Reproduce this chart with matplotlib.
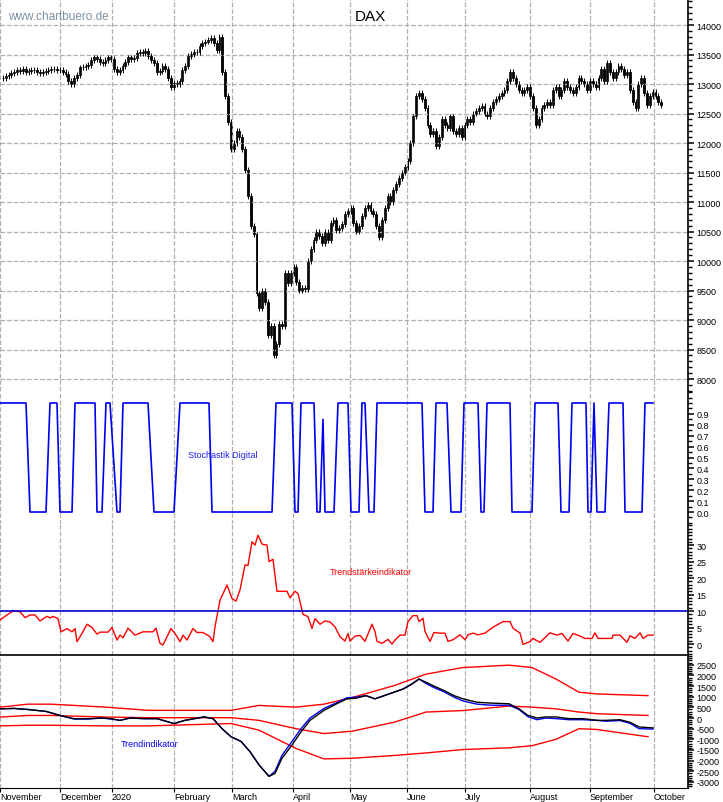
import numpy as np
import matplotlib.pyplot as plt
from matplotlib.ticker import MultipleLocator

plt.rcParams['font.family'] = ['Liberation Sans', 'DejaVu Sans']
plt.rcParams['axes.unicode_minus'] = False

# daily closes, Nov 2019 - Oct 2020
closes = [
    # Nov
    13100, 13130, 13150, 13180, 13200, 13230, 13220, 13250, 13200, 13220, 13240,
    13230, 13210, 13180, 13200, 13220, 13240, 13250, 13260, 13230, 13240,
    # Dec
    13200, 13170, 13050, 13000, 13100, 13150, 13280, 13290, 13300, 13320, 13400,
    13450, 13420, 13380, 13350, 13400, 13450, 13420,
    # Jan
    13250, 13200, 13230, 13300, 13380, 13450, 13430, 13440, 13520, 13550, 13520,
    13560, 13480, 13400, 13350, 13200, 13220, 13300, 13250, 13100, 12950, 13020,
    # Feb
    13000, 13050, 13230, 13300, 13480, 13510, 13550, 13540, 13650, 13700, 13720,
    13750, 13780, 13700, 13580, 13790, 13200, 12800, 12350, 11900,
    # Mar
    12000, 12200, 12100, 11900, 11550, 11100, 10600, 10450, 9450, 9200, 9500,
    9300, 8740, 8900, 8400, 8600, 8930, 8900, 9800, 9630, 9800, 9900,
    # Apr
    9650, 9500, 9550, 9530, 10000, 10200, 10350, 10500, 10420, 10300, 10500,
    10350, 10650, 10700, 10530, 10560, 10630, 10800, 10850, 10900,
    # May
    10650, 10500, 10600, 10770, 10900, 10950, 10850, 10800, 10600, 10400, 10700,
    10900, 11100, 11000, 11200, 11300, 11400, 11500, 11600, 11700,
    # Jun
    12000, 12450, 12800, 12850, 12750, 12600, 12300, 12150, 12200, 11950, 12100,
    12400, 12300, 12250, 12450, 12200, 12150, 12250, 12100, 12300, 12400, 12350,
    # Jul
    12500, 12550, 12600, 12630, 12500, 12450, 12600, 12700, 12750, 12800, 12850,
    12900, 13050, 13200, 13100, 13000, 12900, 12850, 12900, 12950, 12800, 12600, 12300,
    # Aug
    12400, 12600, 12650, 12700, 12650, 12900, 12950, 12800, 12900, 13050, 12950,
    12900, 12850, 12950, 13100, 13050, 13000, 12900, 13050, 13000, 12950,
    # Sep
    13100, 13250, 13050, 13350, 13200, 13100, 13200, 13300, 13250, 13150, 13200,
    12900, 12700, 12600, 13000, 13100, 12850, 12650, 12800, 12870,
    # Oct
    12800, 12700, 12650,
]

# indicator turning points as (x in picture pixels, value)
stoch_pts = [(0, 1), (26, 1), (30, 0), (46, 0), (50, 1), (57, 1), (60, 0), (72, 0), (75, 1),
             (95, 1), (97, 0), (102, 0), (106, 1), (110, 1), (117, 0), (120, 0), (123, 1),
             (148, 1), (154, 0), (174, 0), (180, 1), (209, 1), (212, 0), (272, 0), (276, 1),
             (292, 1), (295, 0), (298, 0), (301, 1), (314, 1), (317, 0), (320, 0), (323, 0.85),
             (325, 0), (334, 0), (338, 1), (348, 1), (351, 0), (359, 0), (362, 1), (365, 1),
             (369, 0), (374, 0), (377, 1), (422, 1), (425, 0), (433, 0), (436, 1), (447, 1),
             (451, 0), (461, 0), (464, 1), (478, 1), (481, 0), (484, 0), (487, 1), (510, 1),
             (512, 0), (532, 0), (535, 1), (558, 1), (561, 0), (569, 0), (572, 1), (586, 1),
             (588, 0), (591, 0), (594, 1), (597, 0), (605, 0), (609, 1), (623, 1), (625, 0),
             (642, 0), (645, 1), (653, 1)]

ts_pts = [(0, 7.3), (7, 8.8), (13, 10), (20, 9.8), (25, 8), (30, 8.8), (35, 8.8), (40, 7),
          (47, 8.4), (50, 7.9), (53, 8.4), (58, 7.7), (61, 3.7), (67, 4.7), (72, 3.7), (75, 4.7),
          (77, 0.7), (82, 3.2), (87, 6), (92, 5), (97, 3), (100, 3.6), (108, 3.6), (112, 5),
          (117, 1.2), (120, 2.7), (123, 1.9), (128, 4.8), (135, 2.7), (143, 3.7), (153, 3.7),
          (156, 4.8), (160, 0.2), (163, -0.3), (167, 2.2), (171, 4.7), (175, 3.2), (180, 0.7),
          (183, 2.7), (187, 1.2), (193, 4.7), (197, 3.5), (203, 3.5), (210, 2.2), (213, 0.7),
          (215, 5.2), (220, 13.3), (227, 17.9), (232, 13.8), (236, 13), (240, 16.4), (245, 24),
          (248, 23.8), (252, 31), (255, 30), (258, 33), (262, 30.3), (267, 30), (269, 25),
          (273, 25.7), (277, 16), (287, 16), (290, 14), (295, 16), (298, 15.3), (303, 9),
          (308, 8.3), (312, 4.7), (315, 7.7), (320, 6), (325, 7), (330, 6.7), (335, 5.2),
          (340, 2.2), (345, 0.9), (348, 3.2), (350, 0.9), (355, 2.4), (360, 2.6), (365, 0.8),
          (372, 6), (375, 3.8), (377, 0.8), (382, 0.2), (388, 1.4), (392, 0), (395, 1.2),
          (400, 2.7), (405, 2.7), (408, 6.8), (413, 8.6), (417, 8.6), (419, 6.8), (423, 7.8),
          (425, 3.8), (430, 0.8), (434, 3.5), (440, 3.3), (445, 3.3), (448, 0.8), (453, 1.3),
          (460, 2.8), (465, 1.3), (468, 2.8), (473, 3.3), (478, 2.8), (485, 3.3), (493, 5.1),
          (503, 6.8), (510, 6.8), (513, 4.8), (520, 3.3), (523, -0.1), (530, 0.7), (533, 1.7),
          (540, 0.5), (550, 3.4), (557, 2.7), (562, 3.2), (568, 0.9), (573, 3.2), (580, 2.4),
          (585, 1.7), (592, 1.7), (595, 3.4), (598, 1.7), (612, 1.7), (613, 2.7), (620, 2.7),
          (627, 0.5), (630, 2.5), (635, 1.7), (640, 3.4), (643, 1.7), (648, 2.7), (653, 2.7)]

# (x px, trend, blue signal)
trend_pts = [(0, 430, 430), (14, 450, 450), (28, 400, 400), (46, 310, 310), (60, 120, 120),
             (74, -30, -50), (88, -30, -50), (102, 0, 0), (111, -30, -50), (120, -110, -110),
             (130, 0, 0), (144, -30, -30), (157, -30, -30), (174, -260, -260), (185, -110, -110),
             (204, 50, 50), (213, -30, -30), (222, -500, -500), (231, -880, -880),
             (241, -1100, -1100), (250, -1580, -1580), (259, -2200, -2200), (269, -2740, -2740),
             (275, -2600, -2500), (282, -1890, -1750), (292, -1270, -1100), (301, -650, -500),
             (310, -110, 0), (324, 360, 450), (338, 700, 750), (347, 900, 950), (356, 930, 980),
             (366, 1050, 1050), (375, 900, 900), (389, 1130, 1130), (403, 1360, 1360),
             (412, 1600, 1600), (419, 1830, 1830), (426, 1680, 1620), (433, 1520, 1450),
             (444, 1290, 1230), (454, 1050, 980), (463, 900, 800), (477, 740, 650),
             (491, 700, 600), (509, 670, 600), (519, 430, 400), (528, 120, 60), (537, 0, -80),
             (546, 50, 0), (556, 50, -30), (569, -30, -80), (583, -30, -80), (597, -110, -110),
             (606, -110, -150), (620, -80, -120), (630, -200, -250), (639, -420, -500),
             (653, -465, -520)]

# (x px, upper, middle, lower)
band_pts = [(0, 510, 45, -370), (28, 650, 120, -340), (51, 650, 120, -340), (106, 510, 45, -370),
            (148, 360, 15, -370), (231, 360, 15, -260), (259, 590, -110, -570),
            (296, 510, -500, -1430), (324, 650, -730, -1920), (352, 960, -620, -1890),
            (394, 1520, -200, -1760), (426, 2060, 280, -1640), (463, 2370, 350, -1480),
            (509, 2480, 560, -1400), (532, 2370, 510, -1300), (556, 1830, 430, -1000),
            (579, 1210, 280, -500), (597, 1130, 200, -540), (648, 1050, 120, -880)]

month_days = [-1, 20, 38.3, 60, 80.4, 101.8, 121.8, 141.8, 162, 185, 206, 228.5]
month_names = ['November', 'December', '2020', 'February', 'March', 'April', 'May', 'June',
               'July', 'August', 'September', 'October']

PX = 2.85  # picture pixels per trading day


def px2day(p):
    return np.array(p, dtype=float) / PX - 1


fig = plt.figure(figsize=(7.23, 8.03), dpi=100)
H = 803.0
L, R = 0.0, 688 / 723


def panel(top, bot):
    return fig.add_axes([L, 1 - bot / H, R, (bot - top) / H])


ax1 = panel(0, 392)
ax2 = panel(392, 525)
ax3 = panel(525, 656)
ax4 = panel(656, 789)
xlim = (-1, -1 + 688 / PX)

for ax in (ax1, ax2, ax3, ax4):
    ax.set_xlim(*xlim)
    for s in ('left', 'top', 'bottom'):
        ax.spines[s].set_visible(False)
    ax.spines['right'].set_linewidth(1.2)
    ax.yaxis.tick_right()
    ax.tick_params(axis='y', labelsize=6.5, length=4, width=1.1, pad=2, direction='out')
    ax.tick_params(axis='y', which='minor', length=3, width=1)
    ax.tick_params(axis='x', length=0, labelbottom=False)
    ax.set_xticks(month_days)
    ax.grid(axis='x', color='#b0b0b0', linestyle='--', linewidth=0.9)

# candles
closes = np.array(closes, dtype=float)
opens = np.concatenate([[closes[0]], closes[:-1]])
days = np.arange(len(closes))
for d, o, c in zip(days, opens, closes):
    lo, hi = min(o, c), max(o, c)
    ax1.vlines(d, lo - 50, hi + 50, color='black', linewidth=0.7)
    ax1.bar(d, max(hi - lo, 10), bottom=lo, width=0.65,
            color='black' if c < o else 'white', edgecolor='black', linewidth=0.6)
ax1.set_ylim(7797, 14441)
ax1.set_yticks(np.arange(8000, 14001, 500))
ax1.yaxis.set_minor_locator(MultipleLocator(100))
ax1.grid(axis='y', color='#b0b0b0', linestyle='--', linewidth=0.9)
ax1.text(px2day(8), 14150, 'www.chartbuero.de', color='#8090a0', fontsize=8.5, va='center')
ax1.text(0.515, 0.975, 'DAX', transform=ax1.transAxes, fontsize=11, va='top', ha='left')

# stochastik digital
sx, sv = zip(*stoch_pts)
ax2.plot(px2day(sx), sv, color='#0000ee', linewidth=1.2)
ax2.set_ylim(-0.11, 1.11)
ticks = np.arange(0, 0.91, 0.1)
ax2.set_yticks(ticks)
ax2.set_yticklabels([f'{v:.1f}' for v in ticks])
ax2.yaxis.set_minor_locator(MultipleLocator(0.05))
ax2.text(px2day(188), 0.53, 'Stochastik Digital', color='#2020ee', fontsize=6.5, va='center')

# trendstaerke
tx, tv = zip(*ts_pts)
ax3.plot(px2day(tx), tv, color='red', linewidth=1.0)
ax3.axhline(10, color='#0000cc', linewidth=1.2)
ax3.set_ylim(-3.33, 36.4)
ax3.set_yticks(np.arange(0, 31, 5))
ax3.yaxis.set_minor_locator(MultipleLocator(1))
ax3.text(px2day(330), 22, 'Trendstärkeindikator', color='red', fontsize=6.5, va='center')

# trendindikator
bx, bu, bm, bl = zip(*band_pts)
for band in (bu, bm, bl):
    ax4.plot(px2day(bx), band, color='red', linewidth=1.0)
kx, kt, kb = zip(*trend_pts)
ax4.plot(px2day(kx), kb, color='#0000ee', linewidth=1.0)
ax4.plot(px2day(kx), kt, color='black', linewidth=1.0)
ax4.spines['top'].set_visible(True)
ax4.spines['top'].set_linewidth(1.2)
ax4.spines['bottom'].set_visible(True)
ax4.set_ylim(-3286, 2958)
ax4.set_yticks(np.arange(-3000, 2501, 500))
ax4.yaxis.set_minor_locator(MultipleLocator(100))
ax4.text(px2day(121), -1200, 'Trendindikator', color='#0000ee', fontsize=6.5, va='center')
ax4.tick_params(axis='x', length=3, direction='out', labelbottom=True, labelsize=6.5, pad=0)
ax4.set_xticklabels(month_names, ha='left')

fig.savefig('out.png', dpi=100)
